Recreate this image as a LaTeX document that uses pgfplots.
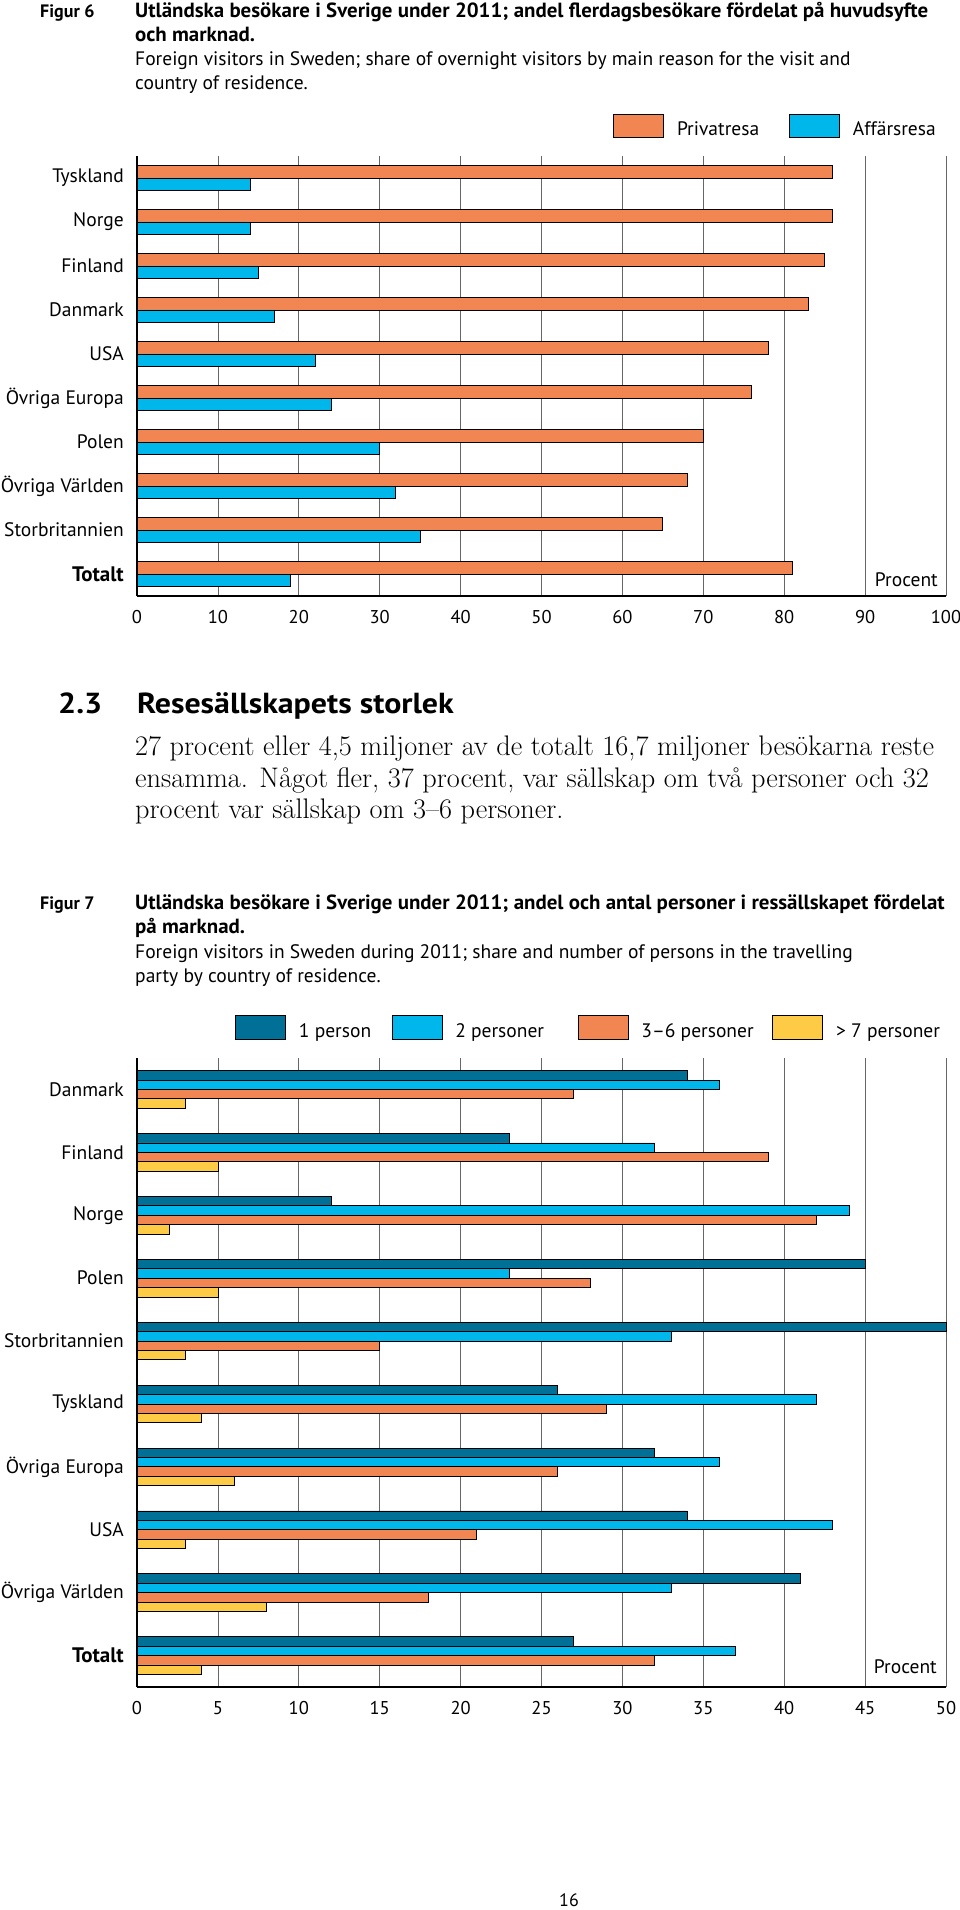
\documentclass[border=0pt]{standalone}
\usepackage{fontspec}
\newfontfamily\pts{PT Sans}
\newfontfamily\ptsh[FakeStretch=1.1]{PT Sans}
\newfontfamily\ptst[FakeStretch=1.02]{PT Sans}
\usepackage{pgfplots}
\pgfplotsset{compat=1.18}

\definecolor{orb}{RGB}{242,134,82}
\definecolor{cyb}{RGB}{0,183,235}
\definecolor{teb}{RGB}{0,112,150}
\definecolor{yeb}{RGB}{253,203,70}

\newcommand{\lab}{\pts\fontsize{19.5}{23}\selectfont}
\newcommand{\tlab}{\pts\fontsize{18.5}{22}\selectfont}

\pgfplotsset{
  mybars/.style={
    xbar, scale only axis, width=809pt, clip=false,
    axis x line*=bottom, axis y line*=left,
    axis line style={-, black, line width=1.3pt},
    xmajorgrids, grid style={black!60, line width=0.7pt},
    major tick length=0pt, tick style={draw=none},
    ymin=-0.5, ymax=9.5, ytick={0,...,9},
    font=\lab,
    yticklabel style={font=\lab, inner sep=0pt, xshift=-13pt},
    xticklabel style={font=\tlab, inner sep=0pt, yshift=-14.5pt},
    /pgf/number format/assume math mode=true,
    every axis plot/.append style={draw=black, line width=0.8pt},
    legend style={draw=none, fill=none, inner sep=0pt, anchor=north west,
      legend columns=-1, font=\lab,
      nodes={inner sep=0pt},
      /tikz/every odd column/.style={column sep=13pt}},
  }
}

\begin{document}
\begin{tikzpicture}[x=1pt,y=1pt]
\useasboundingbox (0,0) rectangle (960,-1910);

% ---- Figur 6 title
\begin{scope}[every node/.style={anchor=base west, inner sep=0pt, font=\lab}]
\node[font=\pts\bfseries\fontsize{18}{21}\selectfont] at (40,-18) {Figur 6};
\node[font=\ptst\bfseries\fontsize{20.5}{24}\selectfont] at (135,-18) {Utländska besökare i Sverige under 2011; andel flerdagsbesökare fördelat på huvudsyfte};
\node[font=\ptst\bfseries\fontsize{20.5}{24}\selectfont] at (135,-42) {och marknad.};
\node at (135,-66) {Foreign visitors in Sweden; share of overnight visitors by main reason for the visit and};
\node at (135,-90) {country of residence.};

% ---- section text
\node[font=\ptsh\bfseries\fontsize{29}{32}\selectfont] at (58,-713) {2.3};
\node[font=\ptsh\bfseries\fontsize{29}{32}\selectfont] at (137,-713) {Resesällskapets storlek};
\node[font=\rmfamily\fontsize{28.3}{32}\selectfont] at (135,-755) {27 procent eller 4,5 miljoner av de totalt 16,7 miljoner besökarna reste};
\node[font=\rmfamily\fontsize{28.3}{32}\selectfont] at (135,-787) {ensamma. Något fler, 37 procent, var sällskap om två personer och 32};
\node[font=\rmfamily\fontsize{28.3}{32}\selectfont] at (135,-818) {procent var sällskap om 3–6 personer.};

% ---- Figur 7 title
\node[font=\pts\bfseries\fontsize{18}{21}\selectfont] at (40,-909) {Figur 7};
\node[font=\ptst\bfseries\fontsize{20.5}{24}\selectfont] at (135,-909) {Utländska besökare i Sverige under 2011; andel och antal personer i ressällskapet fördelat};
\node[font=\ptst\bfseries\fontsize{20.5}{24}\selectfont] at (135,-933) {på marknad.};
\node at (135,-958) {Foreign visitors in Sweden during 2011; share and number of persons in the travelling};
\node at (135,-982) {party by country of residence.};
\end{scope}

\node[anchor=base, inner sep=0pt, font=\pts\fontsize{18}{21}\selectfont] at (569,-1906) {16};

% ---- Chart 1
\begin{axis}[mybars, at={(137pt,-596pt)}, anchor=south west, height=440pt,
  xmin=0, xmax=100, xtick={0,10,...,100},
  bar width=12.5pt,
  yticklabels={{\pts\bfseries\fontsize{21}{23}\selectfont Totalt},Storbritannien,Övriga Världen,Polen,Övriga Europa,USA,Danmark,Finland,Norge,Tyskland},
  legend style={at={(0.5884,1.0955)}, /tikz/column 2/.style={column sep=30pt}},
  every axis plot/.append style={legend image code/.code={\draw[##1] (0pt,-8.5pt) rectangle (50pt,14.8pt);}},
]
\addplot[fill=orb, bar shift=6.25pt] coordinates {(86,9) (86,8) (85,7) (83,6) (78,5) (76,4) (70,3) (68,2) (65,1) (81,0)};
\addplot[fill=cyb, bar shift=-6.25pt] coordinates {(14,9) (14,8) (15,7) (17,6) (22,5) (24,4) (30,3) (32,2) (35,1) (19,0)};
\legend{Privatresa, Affärsresa}
\node[anchor=base east, inner sep=0pt, font=\lab] at (rel axis cs:1,0) [xshift=-8pt, yshift=10pt] {Procent};
\end{axis}

% ---- Chart 2
\begin{axis}[mybars, at={(137pt,-1687pt)}, anchor=south west, height=629pt,
  xmin=0, xmax=50, xtick={0,5,...,50},
  bar width=9.4pt,
  yticklabels={{\pts\bfseries\fontsize{21}{23}\selectfont Totalt},Övriga Världen,USA,Övriga Europa,Tyskland,Storbritannien,Polen,Norge,Finland,Danmark},
  legend style={at={(0.1211,1.0684)}, /tikz/column 2/.style={column sep=20.3pt},
    /tikz/column 4/.style={column sep=33.5pt}, /tikz/column 6/.style={column sep=18.7pt}},
  every axis plot/.append style={legend image code/.code={\draw[##1] (0pt,-8.7pt) rectangle (50pt,15.6pt);}},
]
\addplot[fill=teb, bar shift=14.1pt] coordinates {(34,9) (23,8) (12,7) (45,6) (50,5) (26,4) (32,3) (34,2) (41,1) (27,0)};
\addplot[fill=cyb, bar shift=4.7pt] coordinates {(36,9) (32,8) (44,7) (23,6) (33,5) (42,4) (36,3) (43,2) (33,1) (37,0)};
\addplot[fill=orb, bar shift=-4.7pt] coordinates {(27,9) (39,8) (42,7) (28,6) (15,5) (29,4) (26,3) (21,2) (18,1) (32,0)};
\addplot[fill=yeb, bar shift=-14.1pt] coordinates {(3,9) (5,8) (2,7) (5,6) (3,5) (4,4) (6,3) (3,2) (8,1) (4,0)};
\legend{1 person, 2 personer, 3–6 personer, > 7 personer}
\node[anchor=base east, inner sep=0pt, font=\lab] at (rel axis cs:1,0) [xshift=-9pt, yshift=14pt] {Procent};
\end{axis}
\end{tikzpicture}
\end{document}
